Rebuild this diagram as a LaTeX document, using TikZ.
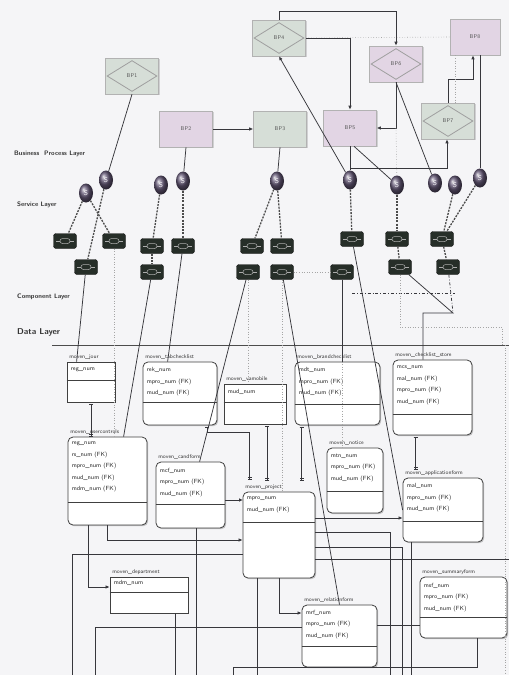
\documentclass[tikz,border=0pt]{standalone}
\usepackage{fontspec}
\usepackage{tikz}
\usetikzlibrary{shapes.geometric,shadows,arrows.meta,calc}

\definecolor{paper}{RGB}{245,245,247}
\definecolor{bpgreen}{RGB}{214,222,215}
\definecolor{bppink}{RGB}{226,213,228}
\definecolor{svcball}{RGB}{98,86,116}
\definecolor{compdark}{RGB}{38,46,40}
\definecolor{inkline}{RGB}{55,55,60}

\tikzset{
  bpbox/.style={draw=gray!60, line width=0.6, minimum width=53, minimum height=36, inner sep=0,
    font=\sffamily\fontsize{5.5}{6}\selectfont, text=black!65,
    drop shadow={shadow xshift=1.2pt, shadow yshift=-1.2pt, opacity=0.3}},
  bpdiamond/.style={draw=gray!75, line width=0.8},
  svc/.style={ellipse, minimum width=14, minimum height=19, inner sep=0, ball color=svcball,
    text=white!80, font=\sffamily\fontsize{7}{7}\selectfont},
  comp/.style={draw=black!90, fill=compdark, rounded corners=2.5, minimum width=23, minimum height=15,
    inner sep=0, path picture={
      \draw[gray!65, line width=0.5] ([shift={(-5pt,-2.5pt)}]path picture bounding box.center)
        rectangle ([shift={(5pt,2.5pt)}]path picture bounding box.center);
      \draw[gray!65, line width=0.5] ([xshift=-9pt]path picture bounding box.center) -- ([xshift=-5pt]path picture bounding box.center)
        ([xshift=5pt]path picture bounding box.center) -- ([xshift=9pt]path picture bounding box.center);}},
  layer/.style={anchor=west, inner sep=0, font=\sffamily\bfseries\fontsize{6.5}{7}\selectfont, text=black!80},
  entity/.style={draw=black!75, line width=0.8, fill=white, inner sep=0,
    drop shadow={shadow xshift=1.2pt, shadow yshift=-1.2pt, opacity=0.45}},
  roundent/.style={entity, rounded corners=5},
  etitle/.style={anchor=south west, inner sep=0.5, xshift=2pt, yshift=1pt,
    font=\sffamily\fontsize{5.5}{6}\selectfont, text=black!80},
  efield/.style={anchor=north west, align=left, inner sep=0,
    font=\sffamily\fontsize{6}{11.5}\selectfont, text=black!85},
  esep/.style={draw=black!75, line width=0.8},
  link/.style={draw=inkline, line width=0.75},
  erel/.style={link, arrows={Bar[width=4pt,sep=1.2pt] Bar[width=4pt]-Bar[width=4pt,sep=1.2pt] Bar[width=4pt]}},
  svclink/.style={draw=black!70, line width=1.3, dash pattern=on 2pt off 1.2pt},
  guide/.style={draw=gray!70, line width=0.6, dotted}
}

\begin{document}
\begin{tikzpicture}[x=1pt, y=-1pt, >={Latex[length=4pt,width=3.5pt]}]
        \fill[paper] (0,0) rectangle (509,675);
        \useasboundingbox (0,0) rectangle (509,675);

        % Coordinates
        \coordinate (k1) at (473,79);
        \coordinate (k2) at (447,168);
        \coordinate (d1) at (243,500);
        \coordinate (d2) at (88,587);
        \coordinate (d3) at (107,540);
        \coordinate (d4) at (72,554);
        \coordinate (d4b) at (72,675);
        \coordinate (d5) at (509,559);
        \coordinate (d6) at (95,627);
        \coordinate (d6b) at (95,675);
        \coordinate (d7) at (279,613);
        \coordinate (d8) at (400,625);
        \coordinate (d9) at (477,667);
        \coordinate (d10) at (233,667);
        \coordinate (d11) at (360,518);
        \coordinate (d12) at (390,532);
        \coordinate (d13) at (402,547);
        \coordinate (d16) at (453,313);
        \coordinate (d17) at (423,313);
        \coordinate (d18) at (502,327);
        \coordinate (d19) at (455,293);

        % Layer names
        \node[layer] (lbp) at (14,154) {Business~~Process Layer};
        \node[layer] (lsv) at (17,205) {Service Layer};
        \node[layer] (lcp) at (17,297) {Component Layer};
        \node[layer, font=\sffamily\bfseries\fontsize{8.5}{9}\selectfont] (ldt) at (17,332) {Data Layer};
        \draw[black!70, line width=0.9] (52,345) -- (509,345);

        % Business processes
        \node[bpbox, fill=bpgreen] (bp1) at (132,76) {BP1};
        \node[bpbox, fill=bppink] (bp2) at (186,129) {BP2};
        \node[bpbox, fill=bpgreen] (bp3) at (280,129) {BP3};
        \node[bpbox, fill=bpgreen] (bp4) at (279,38) {BP4};
        \node[bpbox, fill=bppink] (bp5) at (350,128) {BP5};
        \node[bpbox, fill=bppink] (bp6) at (396,64) {BP6};
        \node[bpbox, fill=bpgreen] (bp7) at (448,121) {BP7};
        \node[bpbox, fill=bppink, minimum width=50] (bp8) at (475,37) {BP8};
        \foreach \b in {bp1,bp4,bp6,bp7}
          \draw[bpdiamond] ($(\b.west)+(2,0)$) -- ($(\b.north)+(0,3)$) -- ($(\b.east)+(-2,0)$) -- ($(\b.south)+(0,-3)$) -- cycle;

        % Services
        \node[svc] (s1a) at (86,193) {S};
        \node[svc] (s1b) at (106,180) {S};
        \node[svc] (s2a) at (161,185) {S};
        \node[svc] (s2b) at (183,181) {S};
        \node[svc] (s3) at (277,181) {S};
        \node[svc] (s5) at (350,180) {S};
        \node[svc] (s6) at (397,185) {S};
        \node[svc] (s7a) at (435,183) {S};
        \node[svc] (s7b) at (455,185) {S};
        \node[svc] (s8) at (480,178) {S};

        % Components
        \node[comp] (c1) at (65,241) {};
        \node[comp] (c2) at (114,241) {};
        \node[comp] (c3) at (86,267) {};
        \node[comp] (c4) at (152,246) {};
        \node[comp] (c5) at (183,246) {};
        \node[comp] (c6) at (152,272) {};
        \node[comp] (c7) at (252,246) {};
        \node[comp] (c8) at (282,246) {};
        \node[comp] (c9) at (248,272) {};
        \node[comp] (c10) at (282,272) {};
        \node[comp] (c11) at (352,239) {};
        \node[comp] (c12) at (342,272) {};
        \node[comp] (c13) at (397,239) {};
        \node[comp] (c14) at (400,267) {};
        \node[comp] (c15) at (442,239) {};
        \node[comp] (c16) at (448,267) {};

        % Tables
        \node[entity, minimum width=48, minimum height=40] (jour) at (91,382) {};
        \node[etitle] at (jour.north west) {moven\_jour};
        \node[efield] at ([shift={(4pt,-6pt)}]jour.north west) {reg\_num};
        \draw[esep] ([yshift=-19pt]jour.north west) -- ([yshift=-19pt]jour.north east);

        \node[roundent, minimum width=74, minimum height=63] (tab) at (180,393.5) {};
        \node[etitle] at (tab.north west) {moven\_tabchecklist};
        \node[efield] at ([shift={(4pt,-6pt)}]tab.north west) {rek\_num\\mpro\_num (FK)\\mud\_num (FK)};
        \draw[esep] ([yshift=-41pt]tab.north west) -- ([yshift=-41pt]tab.north east);

        \node[entity, minimum width=62, minimum height=40] (vam) at (255,404) {};
        \node[etitle] at (vam.north west) {moven\_vamobile};
        \node[efield] at ([shift={(4pt,-6pt)}]vam.north west) {mud\_num};
        \draw[esep] ([yshift=-19pt]vam.north west) -- ([yshift=-19pt]vam.north east);

        \node[roundent, minimum width=85, minimum height=63] (brand) at (337.5,393.5) {};
        \node[etitle] at (brand.north west) {moven\_brandchecklist};
        \node[efield] at ([shift={(4pt,-6pt)}]brand.north west) {mdt\_num\\mpro\_num (FK)\\mud\_num (FK)};
        \draw[esep] ([yshift=-43pt]brand.north west) -- ([yshift=-43pt]brand.north east);

        \node[roundent, minimum width=79, minimum height=75] (store) at (432.5,397.5) {};
        \node[etitle] at (store.north west) {moven\_checklist\_store};
        \node[efield] at ([shift={(4pt,-6pt)}]store.north west) {mcs\_num\\mal\_num (FK)\\mpro\_num (FK)\\mud\_num (FK)};
        \draw[esep] ([yshift=-55pt]store.north west) -- ([yshift=-55pt]store.north east);

        \node[roundent, minimum width=79, minimum height=88] (user) at (107.5,481) {};
        \node[etitle] at (user.north west) {moven\_usercontrols};
        \node[efield] at ([shift={(4pt,-5pt)}]user.north west) {reg\_num\\rs\_num (FK)\\mpro\_num (FK)\\mud\_num (FK)\\mdm\_num (FK)};
        \draw[esep] ([yshift=-66pt]user.north west) -- ([yshift=-66pt]user.north east);

        \node[roundent, minimum width=69, minimum height=66] (cand) at (190.5,495) {};
        \node[etitle] at (cand.north west) {moven\_candform};
        \node[efield] at ([shift={(4pt,-6pt)}]cand.north west) {mcf\_num\\mpro\_num (FK)\\mud\_num (FK)};
        \draw[esep] ([yshift=-43pt]cand.north west) -- ([yshift=-43pt]cand.north east);

        \node[roundent, minimum width=72, minimum height=86] (proj) at (279,535) {};
        \node[etitle] at (proj.north west) {moven\_project};
        \node[efield] at ([shift={(4pt,-5pt)}]proj.north west) {mpro\_num\\mud\_num (FK)};
        \draw[esep] ([yshift=-31pt]proj.north west) -- ([yshift=-31pt]proj.north east);

        \node[roundent, minimum width=56, minimum height=65] (notice) at (355,480.5) {};
        \node[etitle] at (notice.north west) {moven\_notice};
        \node[efield] at ([shift={(4pt,-6pt)}]notice.north west) {mtn\_num\\mpro\_num (FK)\\mud\_num (FK)};
        \draw[esep] ([yshift=-44pt]notice.north west) -- ([yshift=-44pt]notice.north east);

        \node[roundent, minimum width=80, minimum height=64] (appl) at (443,510) {};
        \node[etitle] at (appl.north west) {moven\_applicationform};
        \node[efield] at ([shift={(4pt,-6pt)}]appl.north west) {mal\_num\\mpro\_num (FK)\\mud\_num (FK)};
        \draw[esep] ([yshift=-44pt]appl.north west) -- ([yshift=-44pt]appl.north east);

        \node[entity, minimum width=78, minimum height=36] (dept) at (149,595) {};
        \node[etitle] at (dept.north west) {moven\_department};
        \node[efield] at ([shift={(4pt,-4pt)}]dept.north west) {mdm\_num};
        \draw[esep] ([yshift=-16pt]dept.north west) -- ([yshift=-16pt]dept.north east);

        \node[roundent, minimum width=75, minimum height=62] (relform) at (339.5,636) {};
        \node[etitle] at (relform.north west) {moven\_relationform};
        \node[efield] at ([shift={(4pt,-5pt)}]relform.north west) {mrf\_num\\mpro\_num (FK)\\mud\_num (FK)};
        \draw[esep] ([yshift=-42pt]relform.north west) -- ([yshift=-42pt]relform.north east);

        \node[roundent, minimum width=87, minimum height=61] (summ) at (463.5,607.5) {};
        \node[etitle] at (summ.north west) {moven\_summaryform};
        \node[efield] at ([shift={(4pt,-6pt)}]summ.north west) {msf\_num\\mpro\_num (FK)\\mud\_num (FK)};
        \draw[esep] ([yshift=-41pt]summ.north west) -- ([yshift=-41pt]summ.north east);

        % Drawing
        \draw[guide] (bp4.east) -- (bp8.west);
        \draw[link,->] (bp2) -- (bp3);
        \draw[link,->] (bp4.north) -- ++(0,-8) -| (bp6.north);
        \draw[link,->] (bp4.east) -| (bp5.north);
        \draw[link,->] (bp6.south) |- (bp5.east);
        \draw[link,->] (bp7.north) |- (k1) -- (k1 |- bp8.south);
        \draw[link,->] (s5) -- (bp4.south);
        \draw[link] (bp5.south) -- (s5);
        \draw[link,->] (bp5.south |- k2) -- (k2) -- (k2 |- bp7.south);
        \draw[link] ($(bp5.south)+(4,0)$) -- (s6);
        \draw[link] (bp6.south) -- (s7a);
        \draw[link] (bp8.south -| s8) -- (s8);
        \draw[link] (bp1.south) -- (s1b);
        \draw[link] (bp2.south) -- (s2b);
        \draw[link] (bp3.south) -- (s3);
        \draw[guide] ($(bp8.south)+(-20,0)$) -- ($(bp7.north)+(7,0)$);
        \draw[guide] (bp6.south |- bp5.east) -- (s6);

        \draw[svclink] (s1a) -- (c1);
        \draw[svclink] (s1a) -- (c2);
        \draw[svclink] (s1b) -- (c3);
        \draw[svclink] (s2a) -- (c4);
        \draw[svclink] (s2b) -- (c5);
        \draw[svclink] (s3) -- (c7);
        \draw[svclink] (s3) -- (c8);
        \draw[svclink] (s5) -- (c11);
        \draw[svclink] (s6) -- (c13);
        \draw[svclink] (s7b) -- (c15);
        \draw[svclink] (s8) -- (c15);
        \draw[svclink] (c4) -- (c6);
        \draw[svclink] (c13) -- (c14);
        \draw[svclink] (c15) -- (c16);
        \draw[guide] (c10) -- (c12);

        \draw[link] (c3) -- ($(jour.north west)+(10,0)$);
        \draw[guide] (c2) -- (c2 |- user.north);
        \draw[link] (c6) -- ($(user.north west)+(56,0)$);
        \draw[link] (c5) -- ($(tab.north west)+(25,0)$);
        \draw[link] (c9) -- ($(cand.north west)+(44,0)$);
        \draw[guide] (c9) -- (c9 |- vam.north);
        \draw[guide] (c10) -- (c10 |- proj.north);
        \draw[link] (c10) -- (relform.north);
        \draw[link] (c12) -- (c12 |- brand.north);
        \draw[guide] (c12 |- brand.north) -- (c12 |- notice.north);
        \draw[link] (c11) -- (appl.west);
        \draw[link, dashdotted] (c11 |- d19) -- (d19);
        \draw[link] (c14) -- (d16) -- (d17) -- (d17 |- store.north);
        \draw[link, dashdotted] (c16) -- (d16);
        \draw[guide] (c14) |- (d18) -- ++(0,18);
        \draw[guide] (505,345) -- (505,675);

        \draw[erel] (jour.south) -- (jour.south |- user.north);
        \draw[erel] ($(tab.south east)+(-10,0)$) -- ++(0,7) -| ($(proj.north west)+(7,-12)$);
        \draw[erel] ($(vam.south east)+(-19,0)$) -- ++(0,56);
        \draw[erel] ($(brand.south west)+(7,0)$) -- ++(0,55);
        \draw[erel] ($(store.south west)+(23,0)$) -- ($(appl.north west)+(13,-8)$);
        \draw[link,->] (cand.east |- d1) -- (d1);
        \draw[link,->] (user.south -| d2) -- (d2) -- (dept.west |- d2);
        \draw[link,->] (user.south -| d3) -- (d3) -- (proj.west |- d3);
        \draw[link] (d4b) -- (d4) -- (proj.west |- d4);
        \draw[link] (proj.east |- d5) -- (d5);
        \draw[link] (d6b) -- (d6) -- (relform.west |- d6);
        \draw[link] ($(dept.south east)+(-13,0)$) -- ++(0,62);
        \draw[link] ($(cand.south west)+(41,0)$) -- ++(0,147);
        \draw[link] ($(proj.south west)+(15,0)$) -- ++(0,97);
        \draw[link,->] (proj.south -| d7) -- (d7) -- (relform.west |- d7);
        \draw[link] (relform.east |- d8) -- (summ.west |- d8);
        \draw[link] (summ.south -| d9) -- (d9) -- (d10) -- ++(0,8);
        \draw[link,->] (proj.east |- d11) -- (appl.west |- d11);
        \draw[link] (proj.east |- d12) -- (d12) -- ++(0,143);
        \draw[link] (proj.east |- d13) -- (d13) -- ++(0,128);
        \draw[link] ($(appl.south west)+(9,0)$) -- ++(0,133);
\end{tikzpicture}
\end{document}
